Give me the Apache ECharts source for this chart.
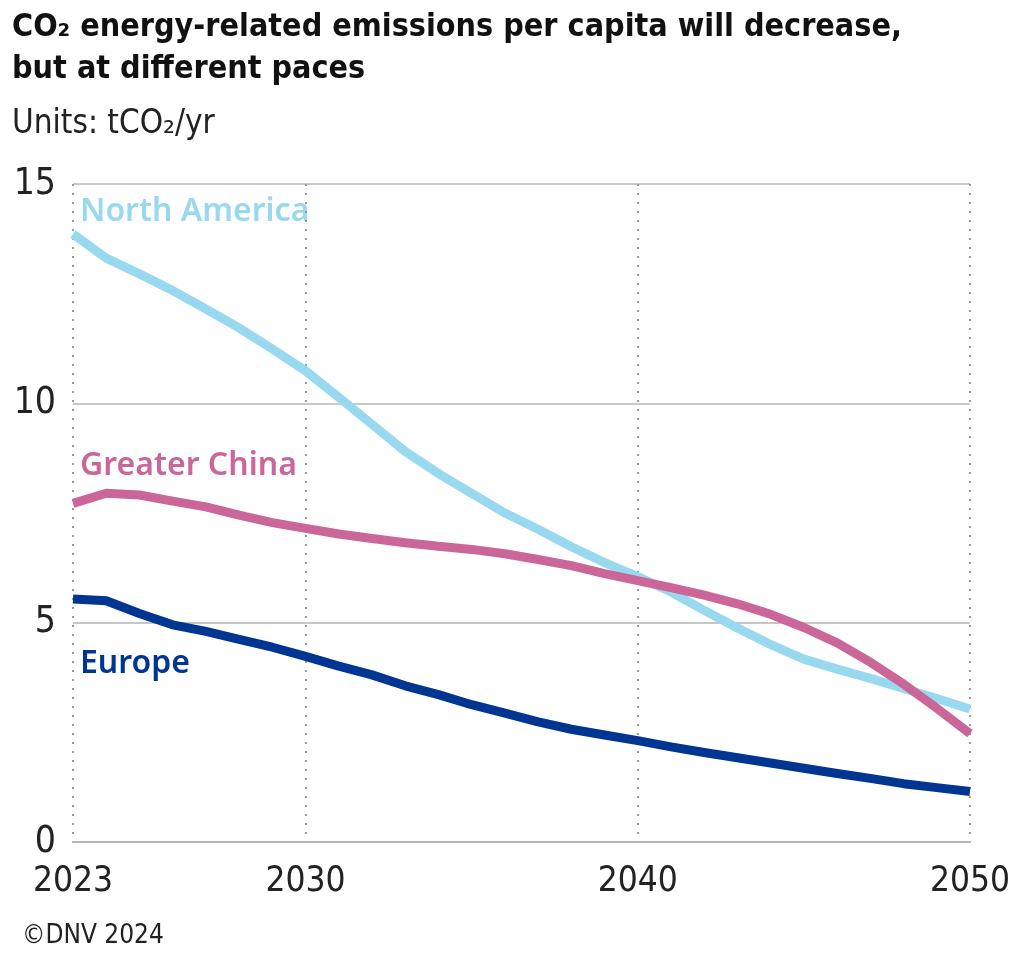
<!DOCTYPE html>
<html>
<head>
<meta charset="utf-8">
<script src="https://cdn.jsdelivr.net/npm/echarts@6/dist/echarts.min.js"></script>
<style>
html,body{margin:0;padding:0;background:#fff;}
#c{width:1024px;height:969px;}
</style>
</head>
<body>
<div id="c"></div>
<script>
const years = [];
for (let y = 2023; y <= 2050; y++) years.push(String(y));
const tickYears = ['2023', '2030', '2040', '2050'];
const yTicks = [0, 5, 10, 15];

const northAmerica = [13.86, 13.31, 12.95, 12.57, 12.15, 11.72, 11.24, 10.74, 10.14, 9.52,
  8.9, 8.4, 7.95, 7.5, 7.13, 6.73, 6.37, 6.05, 5.7, 5.28, 4.88, 4.5, 4.17, 3.94, 3.73, 3.5, 3.27, 3.03];
const greaterChina = [7.72, 7.95, 7.91, 7.77, 7.64, 7.45, 7.28, 7.15, 7.02, 6.92,
  6.82, 6.74, 6.67, 6.57, 6.44, 6.3, 6.12, 5.96, 5.8, 5.63, 5.43, 5.19, 4.89, 4.54, 4.1, 3.6, 3.05, 2.47];
const europe = [5.54, 5.5, 5.21, 4.95, 4.8, 4.62, 4.44, 4.23, 4.01, 3.81,
  3.56, 3.36, 3.13, 2.94, 2.74, 2.57, 2.44, 2.31, 2.17, 2.04, 1.92, 1.8, 1.68, 1.56, 1.45, 1.33, 1.24, 1.15];

const FONT = '"Liberation Sans Narrow","DejaVu Sans Condensed","Roboto",sans-serif';
const LFONT = '"Noto Sans",sans-serif';
const C_NA = '#98D9EF', C_GC = '#CB6699', C_EU = '#003591';

const chart = echarts.init(document.getElementById('c'), null, {renderer: 'canvas'});
const isTick = (i, v) => tickYears.indexOf(v) >= 0;

function line(name, data, color) {
  return {
    name, type: 'line', data, symbol: 'none', smooth: false,
    lineStyle: {color, width: 9, cap: 'butt', join: 'round'},
    itemStyle: {color}, z: 3
  };
}

chart.setOption({
  animation: false,
  backgroundColor: '#fff',
  grid: {left: 73, right: 54, top: 184, bottom: 127, containLabel: false},
  xAxis: {
    type: 'category', data: years, boundaryGap: false,
    axisLine: {show: true, lineStyle: {color: '#b5b5b5', width: 2}},
    axisTick: {show: false},
    axisLabel: {interval: isTick, color: '#222', fontFamily: FONT, fontSize: 35, margin: 22},
    splitLine: {show: true, interval: isTick, lineStyle: {color: '#9a9a9a', width: 2, type: [2, 7]}}
  },
  yAxis: {
    type: 'value', min: 0, max: 15, interval: 5,
    axisLine: {show: false}, axisTick: {show: false},
    axisLabel: {color: '#222', fontFamily: FONT, fontSize: 37, margin: 17},
    splitLine: {show: true, lineStyle: {color: '#b5b5b5', width: 1.5}}
  },
  series: [
    line('North America', northAmerica, C_NA),
    line('Greater China', greaterChina, C_GC),
    line('Europe', europe, C_EU)
  ],
  graphic: [
    {type: 'text', left: 12, top: 7, style: {text: 'CO₂ energy-related emissions per capita will decrease,\nbut at different paces', font: 'bold 32px ' + FONT, fill: '#111', lineHeight: 42}},
    {type: 'text', left: 12, top: 108, style: {text: 'Units: tCO₂/yr', font: '33px ' + FONT, fill: '#222'}},
    {type: 'text', left: 80, top: 196, style: {text: 'North America', font: '600 32px ' + LFONT, fill: C_NA}},
    {type: 'text', left: 80, top: 450, style: {text: 'Greater China', font: '600 32px ' + LFONT, fill: C_GC}},
    {type: 'text', left: 80, top: 648, style: {text: 'Europe', font: '600 32px ' + LFONT, fill: C_EU}},
    {type: 'text', left: 22, top: 923, style: {text: '©DNV 2024', font: '26px ' + FONT, fill: '#222'}}
  ]
});
</script>
</body>
</html>
